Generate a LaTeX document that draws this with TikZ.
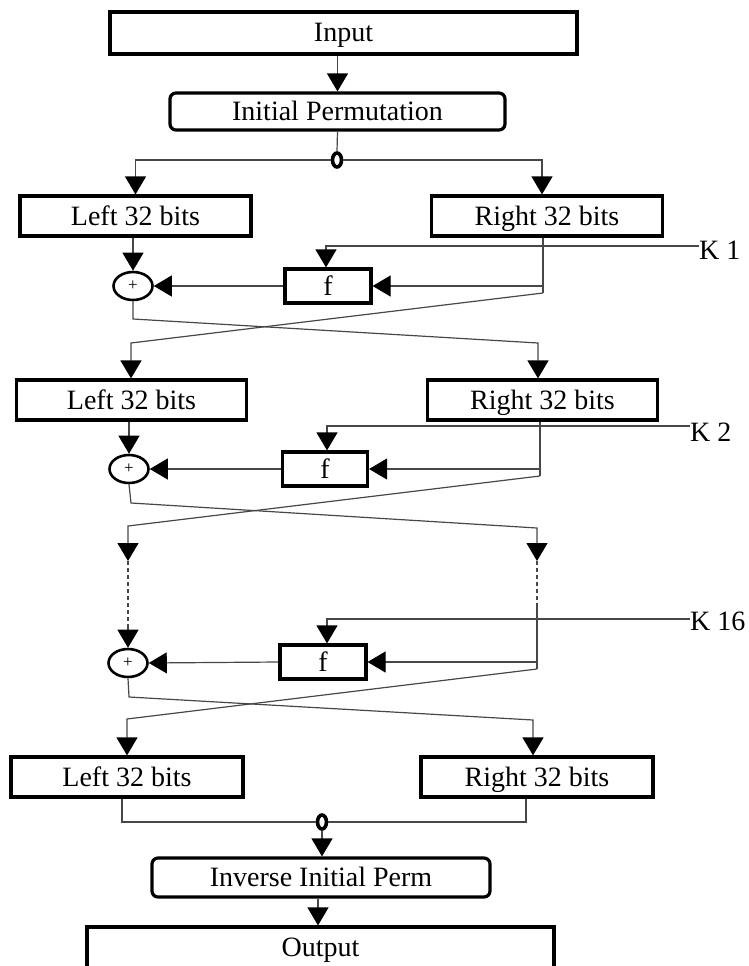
\documentclass[tikz,border=0pt]{standalone}
\usepackage{fontspec}
\setmainfont{Liberation Serif}
\usetikzlibrary{arrows.meta,shapes.geometric}
\begin{document}
\begin{tikzpicture}[x=1pt,y=-1pt,
  txt/.style={font=\fontsize{28}{30}\selectfont, inner sep=0pt},
  box/.style={txt, draw=black, line width=3.2pt, rectangle, text height=18pt, text depth=0pt},
  rbox/.style={box, rounded corners=6pt},
  fbox/.style={box, minimum width=86pt, minimum height=34pt},
  lrbox/.style={box, minimum width=231pt, minimum height=40pt},
  xorn/.style={draw=black, ellipse, line width=2.6pt, inner sep=0pt, minimum width=39pt, minimum height=28pt, font=\fontsize{17}{17}\selectfont},
  jun/.style={draw=black, ellipse, line width=3.6pt, inner sep=0pt, minimum width=9pt, minimum height=14pt},
  wire/.style={line width=1.2pt, draw=black!72},
  arr/.style={wire, -{Triangle[length=18pt,width=21pt,color=black]}},
  dwire/.style={wire, dash pattern=on 4pt off 3pt},
]
\useasboundingbox (0,0) rectangle (749,966);

% ---- top ----
\node[box, minimum width=467pt, minimum height=42pt] (in) at (343.5,33) {Input};
\node[rbox, minimum width=335pt, minimum height=37pt] (ip) at (337.5,111.5) {Initial Permutation};
\node[jun] (j1) at (337,160) {};
\node[lrbox] (L1) at (135.5,216) {Left 32 bits};
\node[lrbox] (R1) at (547,216) {Right 32 bits};

\draw[arr] (in.south -| ip.north) -- (ip.north);
\draw[wire] (ip.south) -- (j1.north);
\coordinate (t1r) at (542,160);
\draw[arr] (j1.west) -| (L1.north);
\draw[arr] (j1.east) -- (t1r) -- (R1.north -| t1r);

% ---- round 1 ----
\node[xorn] (x1) at (133,286) {+};
\node[fbox] (f1) at (328,286) {f};
\node[txt, anchor=west] (k1) at (699,250) {K 1};
\coordinate (r1a) at (543,286);
\coordinate (r1b) at (543,293);
\coordinate (k1t) at (326,246);
\draw[wire] (R1.south -| r1a) -- (r1b);
\draw[arr] (r1a) -- (f1.east);
\draw[arr] (f1.west) -- (x1.east);
\draw[arr] (L1.south -| x1) -- (x1.north);
\draw[arr] ([yshift=4pt]k1.west) -- (k1t) -- (f1.north -| k1t);

% ---- round 2 boxes ----
\node[lrbox, minimum width=230pt] (L2) at (131.5,400) {Left 32 bits};
\node[lrbox, minimum width=230pt] (R2) at (542.5,400) {Right 32 bits};
\coordinate (c1a) at (131,343);
\coordinate (c1b) at (133,319);
\coordinate (c1c) at (538,343);
\draw[arr] (r1b) -- (c1a) -- (L2.north -| c1a);
\draw[arr] (x1.south) -- (c1b) -- (c1c) -- (R2.north -| c1c);

% ---- round 2 ----
\node[xorn] (x2) at (129,469) {+};
\node[fbox, minimum width=85pt] (f2) at (325,469) {f};
\node[txt, anchor=west] (k2) at (690,432) {K 2};
\coordinate (r2a) at (540,469);
\coordinate (r2b) at (540,476);
\coordinate (k2t) at (327,426);
\draw[wire] (R2.south -| r2a) -- (r2b);
\draw[arr] (r2a) -- (f2.east);
\draw[arr] (f2.west) -- (x2.east);
\draw[arr] (L2.south -| x2) -- (x2.north);
\draw[arr] ([yshift=6pt]k2.west) -- (k2t) -- (f2.north -| k2t);

\coordinate (c2a) at (128,526);
\coordinate (a2l) at (128,561);
\coordinate (c2b) at (131,503);
\coordinate (c2c) at (537,528);
\coordinate (a2r) at (537,561);
\draw[arr] (r2b) -- (c2a) -- (a2l);
\draw[arr] (x2.south) -- (c2b) -- (c2c) -- (a2r);

% ---- dots (rounds omitted) ----
\node[xorn] (x3) at (128,663) {+};
\node[fbox] (f3) at (323,662) {f};
\node[txt, anchor=west] (k3) at (690,621) {K 16};
\coordinate (d2l) at (128,626);
\coordinate (d2r) at (537,606);
\coordinate (r3a) at (537,662);
\coordinate (r3b) at (537,669);
\coordinate (k3t) at (327,619);
\draw[dwire] (a2l) -- (d2l);
\draw[arr] (d2l) -- (x3.north);
\draw[dwire] (a2r) -- (d2r);
\draw[wire] (d2r) -- (r3b);
\draw[arr] (r3a) -- (f3.east);
\draw[arr] (f3.west) -- (x3.east);
\draw[arr] ([yshift=2pt]k3.west) -- (k3t) -- (f3.north -| k3t);

% ---- final halves ----
\node[lrbox, minimum width=232pt] (L3) at (127,777) {Left 32 bits};
\node[lrbox, minimum width=232pt] (R3) at (537,777) {Right 32 bits};
\coordinate (c3a) at (127,719);
\coordinate (c3b) at (129,697);
\coordinate (c3c) at (533,720);
\draw[arr] (r3b) -- (c3a) -- (L3.north -| c3a);
\draw[arr] (x3.south) -- (c3b) -- (c3c) -- (R3.north -| c3c);

% ---- bottom ----
\node[jun] (j2) at (322,822) {};
\node[rbox, minimum width=338pt, minimum height=39pt] (iip) at (321,877.5) {Inverse Initial Perm};
\node[box, minimum width=467pt, minimum height=41pt] (out) at (320.5,947.5) {Output};
\coordinate (bl) at (122,822);
\coordinate (br) at (526,822);
\draw[wire] (L3.south -| bl) -- (bl) -- (j2.west);
\draw[wire] (j2.east) -- (br) -- (R3.south -| br);
\draw[arr] (j2.south) -- (iip.north -| j2);
\coordinate (o1) at (318,897);
\draw[arr] (iip.south -| o1) -- (out.north -| o1);
\end{tikzpicture}
\end{document}
